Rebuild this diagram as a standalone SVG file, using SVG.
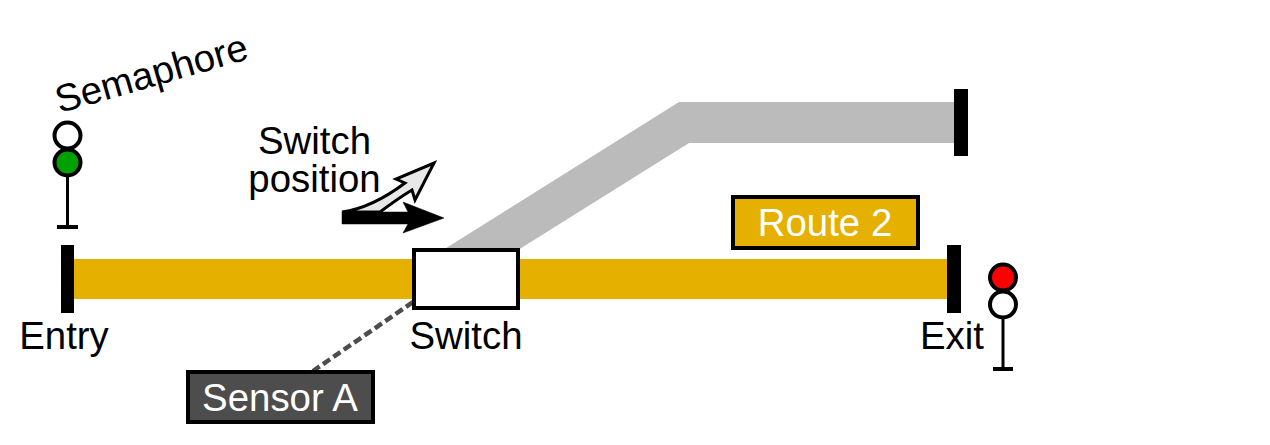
<svg xmlns="http://www.w3.org/2000/svg" width="1270" height="445" viewBox="0 0 1270 445">
<style>
text{font-family:"Liberation Sans",Arial,sans-serif;font-size:38.400px;fill:#000;text-anchor:middle}
.w{fill:#fff}
.bar{fill:#000}
.lamp{stroke:#000;stroke-width:4}
.post{stroke:#000;stroke-width:3;fill:none}
.foot{stroke:#000;stroke-width:4;fill:none}
</style>
<g id="track-upper"><polygon points="443,250 679,102 955,102 955,143 689,143 518,250" fill="#bbb"/></g>
<g id="track-main"><rect x="73" y="259" width="875" height="40" fill="#e6b000"/></g>
<g id="connectors">
<line x1="413" y1="302" x2="313" y2="371" stroke="#4d4d4d" stroke-width="4.500" stroke-dasharray="8.500 4.100"/>
</g>
<g id="entry"><rect class="bar" x="61" y="245" width="13" height="68"/><text x="64" y="349">Entry</text></g>
<g id="exit"><rect class="bar" x="947" y="245" width="14" height="68"/><text x="952" y="349">Exit</text></g>
<g id="end-upper"><rect class="bar" x="954" y="89" width="14" height="67"/></g>
<g id="switch"><rect x="414" y="250" width="104" height="58" fill="#fff" stroke="#000" stroke-width="4"/><text x="466" y="349">Switch</text></g>
<g id="semaphore-entry">
<path class="post" d="M67.500 176V227"/><path class="foot" d="M57 227H78"/>
<circle class="lamp" cx="67.500" cy="135.500" r="13" fill="#fff"/>
<circle class="lamp" cx="67.500" cy="162.500" r="13" fill="#00a000"/>
</g>
<g id="semaphore-exit">
<path class="post" d="M1003 318V369"/><path class="foot" d="M993 369H1013"/>
<circle class="lamp" cx="1003" cy="277.500" r="13" fill="#f00"/>
<circle class="lamp" cx="1003" cy="304.500" r="13" fill="#fff"/>
</g>
<g id="semaphore-label"><text transform="translate(155 86) rotate(-16)">Semaphore</text></g>
<g id="switch-position">
<text x="314.500" y="154">Switch</text><text x="314.500" y="192">position</text>
<path d="M342 212C365 209 385 198 405 183L396 179L434 163L415 200L412 190C402 196 392 203 380 212Z" fill="#e8e8e8" stroke="#000" stroke-width="3" stroke-linejoin="miter"/>
<polygon points="342,212 408,212 403,202 444,218 403,233 408,224 342,224" fill="#000" stroke="#000" stroke-width="0.500"/>
</g>
<g id="route-2"><rect x="733" y="197" width="185" height="51" fill="#e6b000" stroke="#000" stroke-width="4"/><text class="w" x="825" y="236">Route 2</text></g>
<g id="sensor-a"><rect x="188" y="372" width="185" height="50" fill="#4d4d4d" stroke="#000" stroke-width="4"/><text class="w" x="280" y="411">Sensor A</text></g>
</svg>
